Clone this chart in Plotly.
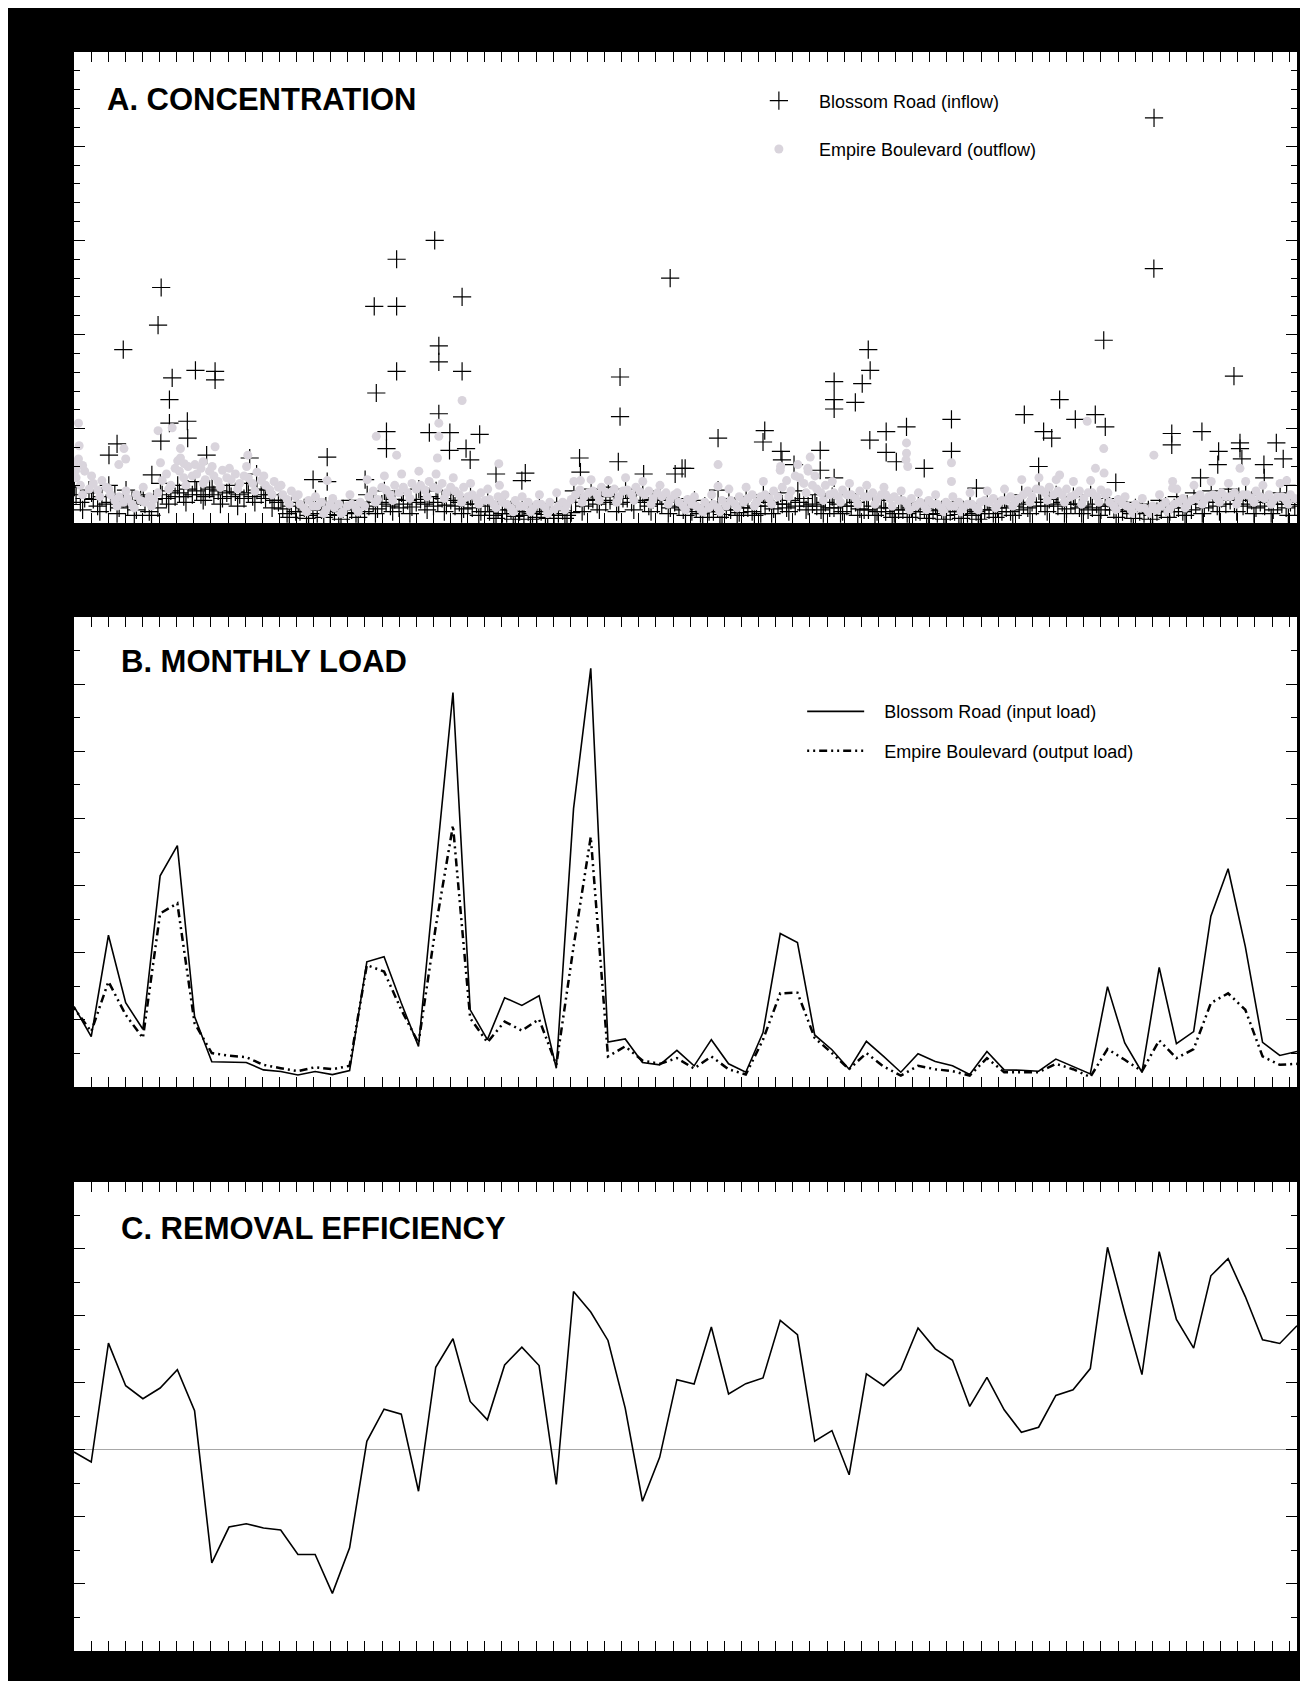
import plotly.graph_objects as go

# ---- panel A: grab samples (months since start of record, concentration) ----
# routine samples, taken on the same days at both sites
sample_month = [
	0.12, 0.37, 0.62, 0.87,
	1.12, 1.37, 1.62, 1.87,
	2.12, 2.37, 2.62, 2.87,
	3.12, 3.37, 3.62, 3.87,
	4.12, 4.37, 4.62, 4.87,
	5.12, 5.37, 5.62, 5.87,
	6.12, 6.37, 6.62, 6.87,
	7.12, 7.37, 7.62, 7.87,
	8.12, 8.37, 8.62, 8.87,
	9.12, 9.37, 9.62, 9.87,
	10.12, 10.37, 10.62, 10.87,
	11.12, 11.37, 11.62, 11.87,
	12.12, 12.37, 12.62, 12.87,
	13.12, 13.37, 13.62, 13.87,
	14.12, 14.37, 14.62, 14.87,
	15.12, 15.37, 15.62, 15.87,
	16.12, 16.37, 16.62, 16.87,
	17.12, 17.37, 17.62, 17.87,
	18.12, 18.37, 18.62, 18.87,
	19.12, 19.37, 19.62, 19.87,
	20.12, 20.37, 20.62, 20.87,
	21.12, 21.37, 21.62, 21.87,
	22.12, 22.37, 22.62, 22.87,
	23.12, 23.37, 23.62, 23.87,
	24.12, 24.37, 24.62, 24.87,
	25.12, 25.37, 25.62, 25.87,
	26.12, 26.37, 26.62, 26.87,
	27.12, 27.37, 27.62, 27.87,
	28.12, 28.37, 28.62, 28.87,
	29.12, 29.37, 29.62, 29.87,
	30.12, 30.37, 30.62, 30.87,
	31.12, 31.37, 31.62, 31.87,
	32.12, 32.37, 32.62, 32.87,
	33.12, 33.37, 33.62, 33.87,
	34.12, 34.37, 34.62, 34.87,
	35.12, 35.37, 35.62, 35.87,
	36.12, 36.37, 36.62, 36.87,
	37.12, 37.37, 37.62, 37.87,
	38.12, 38.37, 38.62, 38.87,
	39.12, 39.37, 39.62, 39.87,
	40.12, 40.37, 40.62, 40.87,
	41.12, 41.37, 41.62, 41.87,
	42.12, 42.37, 42.62, 42.87,
	43.12, 43.37, 43.62, 43.87,
	44.12, 44.37, 44.62, 44.87,
	45.12, 45.37, 45.62, 45.87,
	46.12, 46.37, 46.62, 46.87,
	47.12, 47.37, 47.62, 47.87,
	48.12, 48.37, 48.62, 48.87,
	49.12, 49.37, 49.62, 49.87,
	50.12, 50.37, 50.62, 50.87,
	51.12, 51.37, 51.62, 51.87,
	52.12, 52.37, 52.62, 52.87,
	53.12, 53.37, 53.62, 53.87,
	54.12, 54.37, 54.62, 54.87,
	55.12, 55.37, 55.62, 55.87,
	56.12, 56.37, 56.62, 56.87,
	57.12, 57.37, 57.62, 57.87,
	58.12, 58.37, 58.62, 58.87,
	59.12, 59.37, 59.62, 59.87,
	60.12, 60.37, 60.62, 60.87,
	61.12, 61.37, 61.62, 61.87,
	62.12, 62.37, 62.62, 62.87,
	63.12, 63.37, 63.62, 63.87,
	64.12, 64.37, 64.62, 64.87,
	65.12, 65.37, 65.62, 65.87,
	66.12, 66.37, 66.62, 66.87,
	67.12, 67.37, 67.62, 67.87,
	68.12, 68.37, 68.62, 68.87,
	69.12, 69.37, 69.62, 69.87,
	70.12, 70.37, 70.62, 70.87,
]
inflow_conc = [
	30, 22, 26, 35,   25, 18, 28, 20,   22, 30, 16, 26,   18, 24, 14, 28,
	20, 12, 25, 16,   30, 26, 34, 28,   32, 28, 36, 30,   34, 30, 28, 36,
	30, 34, 26, 32,   28, 33, 30, 26,   32, 28, 35, 30,   26, 30, 24, 22,
	15, 10, 18, 12,   12, 16, 8, 14,    10, 14, 18, 9,    12, 8, 15, 11,
	14, 10, 16, 12,   18, 22, 15, 20,   22, 18, 25, 16,   20, 24, 17, 22,
	25, 20, 28, 18,   22, 26, 19, 24,   18, 22, 15, 20,   16, 20, 12, 18,
	12, 8, 14, 10,    10, 14, 7, 12,    8, 12, 10, 6,     12, 9, 14, 8,
	10, 13, 8, 11,    22, 26, 18, 24,   25, 20, 28, 22,   24, 28, 20, 26,
	26, 22, 30, 24,   22, 18, 25, 20,   20, 24, 16, 22,   18, 14, 20, 12,
	15, 10, 18, 12,   12, 16, 9, 14,    14, 18, 11, 16,   16, 12, 18, 10,
	18, 22, 15, 20,   20, 16, 24, 18,   22, 26, 18, 20,   18, 14, 22, 16,
	16, 20, 12, 18,   18, 22, 15, 14,   14, 18, 12, 16,   12, 16, 10, 14,
	14, 10, 16, 12,   12, 15, 9, 13,    10, 14, 8, 12,    12, 9, 14, 10,
	8, 12, 10, 14,    14, 10, 16, 12,   16, 12, 18, 14,   20, 16, 22, 18,
	22, 18, 25, 20,   18, 22, 15, 20,   20, 16, 18, 14,   16, 20, 14, 18,
	18, 14, 20, 12,   14, 10, 16, 12,   10, 14, 8, 12,    14, 18, 12, 16,
	16, 12, 20, 14,   20, 24, 16, 22,   22, 18, 26, 20,   24, 20, 28, 18,
	20, 24, 16, 22,   18, 22, 14, 20,   20, 16, 22, 18,
]
outflow_conc = [
	48, 40, 55, 36,   42, 35, 45, 38,   30, 24, 28, 22,   26, 20, 30, 24,
	22, 28, 25, 32,   45, 52, 40, 58,   55, 48, 60, 50,   52, 58, 46, 55,
	50, 44, 56, 48,   46, 52, 42, 50,   48, 42, 54, 45,   40, 35, 44, 38,
	30, 25, 34, 28,   20, 16, 24, 18,   18, 22, 14, 20,   16, 20, 12, 18,
	20, 15, 22, 18,   28, 34, 25, 38,   35, 30, 40, 32,   38, 32, 42, 36,
	40, 35, 44, 38,   36, 42, 32, 38,   34, 30, 38, 28,   30, 26, 32, 24,
	25, 20, 28, 22,   20, 16, 24, 18,   18, 22, 15, 20,   20, 16, 22, 14,
	18, 22, 20, 25,   30, 35, 28, 32,   34, 30, 38, 32,   32, 36, 28, 34,
	35, 30, 38, 33,   30, 34, 26, 32,   28, 32, 25, 30,   22, 18, 25, 20,
	18, 15, 22, 16,   20, 16, 24, 18,   24, 20, 28, 22,   26, 30, 22, 28,
	30, 26, 34, 28,   38, 45, 34, 50,   48, 42, 55, 40,   36, 32, 40, 30,
	32, 28, 35, 30,   30, 26, 34, 28,   28, 32, 25, 30,   30, 26, 28, 24,
	24, 20, 26, 18,   22, 18, 24, 20,   20, 16, 22, 18,   18, 22, 16, 20,
	20, 16, 22, 24,   22, 26, 20, 24,   24, 28, 22, 26,   30, 34, 28, 36,
	35, 32, 38, 30,   34, 30, 36, 28,   30, 34, 26, 32,   32, 28, 35, 30,
	22, 18, 25, 20,   18, 14, 20, 16,   16, 12, 18, 14,   18, 22, 15, 20,
	22, 26, 20, 24,   26, 30, 24, 28,   30, 26, 32, 28,   28, 32, 26, 30,
	30, 26, 34, 28,   26, 30, 24, 28,   28, 24, 30, 26,
]

# additional routine samples (twice a month), both sites
extra_month = [
	0.02, 0.50, 1.02, 1.50, 2.02, 2.50, 3.02, 3.50, 4.02, 4.50, 5.02, 5.50,
	6.02, 6.50, 7.02, 7.50, 8.02, 8.50, 9.02, 9.50, 10.02, 10.50, 11.02, 11.50,
	12.02, 12.50, 13.02, 13.50, 14.02, 14.50, 15.02, 15.50, 16.02, 16.50, 17.02, 17.50,
	18.02, 18.50, 19.02, 19.50, 20.02, 20.50, 21.02, 21.50, 22.02, 22.50, 23.02, 23.50,
	24.02, 24.50, 25.02, 25.50, 26.02, 26.50, 27.02, 27.50, 28.02, 28.50, 29.02, 29.50,
	30.02, 30.50, 31.02, 31.50, 32.02, 32.50, 33.02, 33.50, 34.02, 34.50, 35.02, 35.50,
	36.02, 36.50, 37.02, 37.50, 38.02, 38.50, 39.02, 39.50, 40.02, 40.50, 41.02, 41.50,
	42.02, 42.50, 43.02, 43.50, 44.02, 44.50, 45.02, 45.50, 46.02, 46.50, 47.02, 47.50,
	48.02, 48.50, 49.02, 49.50, 50.02, 50.50, 51.02, 51.50, 52.02, 52.50, 53.02, 53.50,
	54.02, 54.50, 55.02, 55.50, 56.02, 56.50, 57.02, 57.50, 58.02, 58.50, 59.02, 59.50,
	60.02, 60.50, 61.02, 61.50, 62.02, 62.50, 63.02, 63.50, 64.02, 64.50, 65.02, 65.50,
	66.02, 66.50, 67.02, 67.50, 68.02, 68.50, 69.02, 69.50, 70.02, 70.50,
]
extra_inflow = [
	38, 14, 32, 12, 40, 10, 35, 8, 30, 8, 42, 20,
	40, 22, 44, 24, 38, 20, 40, 18, 42, 22, 36, 16,
	24, 6, 22, 5, 25, 6, 20, 4, 24, 6, 30, 10,
	34, 12, 32, 10, 36, 14, 34, 12, 30, 10, 28, 8,
	22, 5, 20, 4, 18, 4, 20, 5, 22, 5, 34, 12,
	36, 14, 38, 12, 36, 14, 32, 12, 30, 10, 26, 8,
	24, 6, 22, 6, 26, 8, 28, 8, 30, 10, 32, 12,
	34, 14, 30, 10, 28, 10, 30, 8, 26, 8, 24, 6,
	24, 6, 22, 5, 20, 4, 22, 5, 20, 4, 24, 6,
	26, 8, 30, 10, 34, 12, 30, 10, 28, 10, 30, 8,
	26, 6, 22, 5, 20, 4, 24, 6, 28, 8, 32, 10,
	34, 12, 36, 12, 32, 10, 30, 10, 32, 8,
]
extra_outflow = [
	62, 30, 50, 28, 36, 18, 34, 16, 38, 18, 64, 36,
	66, 40, 62, 42, 60, 38, 58, 36, 60, 34, 50, 30,
	40, 20, 30, 12, 28, 10, 26, 10, 30, 12, 46, 22,
	50, 24, 52, 26, 55, 28, 52, 26, 48, 22, 42, 20,
	36, 16, 30, 12, 28, 12, 30, 10, 32, 14, 44, 22,
	46, 24, 45, 22, 48, 24, 44, 20, 40, 20, 32, 14,
	28, 12, 30, 12, 36, 16, 38, 18, 44, 20, 60, 28,
	62, 32, 50, 24, 44, 22, 42, 20, 40, 20, 38, 18,
	34, 14, 32, 14, 30, 12, 28, 12, 32, 14, 34, 16,
	36, 18, 46, 22, 48, 24, 46, 22, 44, 20, 45, 22,
	32, 14, 28, 10, 26, 10, 30, 12, 36, 16, 40, 20,
	44, 22, 42, 20, 44, 22, 40, 20, 42, 20,
]

# storm event samples at the inflow
storm_in_month = [
	2.03, 2.50, 2.86, 4.52, 4.88, 5.04, 5.06, 5.54, 5.54, 5.70, 6.58, 6.60, 7.05, 7.70,
	8.19, 8.19, 10.20, 10.60, 13.88, 14.70, 14.70, 16.90, 17.43, 17.55, 18.14, 18.14,
	18.73, 18.73, 18.73, 20.63, 20.94, 21.18, 21.18, 21.18, 21.82, 21.80, 22.53, 22.53,
	22.76, 23.00, 23.55, 24.50, 26.00, 26.20, 29.35, 29.40, 31.60, 31.70, 31.70, 33.07,
	34.61, 34.90, 35.30, 35.48, 37.39, 37.39, 40.00, 40.10, 41.04, 41.10, 41.80, 43.32,
	43.32, 44.13, 44.13, 44.13, 44.13, 45.36, 45.76, 46.11, 46.20, 46.22, 47.15, 47.15,
	47.74, 48.33, 49.36, 50.94, 50.94, 52.39, 55.17, 56.00, 56.29, 56.76, 57.22, 58.13,
	59.29, 59.78, 59.87, 60.48, 62.69, 62.70, 63.73, 63.73, 65.40, 65.48, 66.40, 66.45,
	67.34, 67.69, 67.69, 67.80, 69.08, 69.10, 69.80, 70.20, 70.40,
]
storm_in_conc = [
	72, 84, 184, 51, 210, 87, 250, 131, 106, 154, 108, 90, 162, 72,
	161, 152, 69, 52, 46, 70, 44, 46, 230, 138, 97, 79,
	230, 280, 161, 96, 300, 188, 171, 116, 96, 77, 240, 161,
	79, 67, 94, 52, 45, 53, 69, 54, 65, 155, 113, 52,
	260, 52, 58, 58, 90, 35, 86, 98, 76, 67, 62, 77,
	56, 150, 131, 121, 48, 128, 148, 184, 88, 162, 97, 75,
	65, 102, 58, 110, 76, 37, 115, 60, 97, 90, 131, 110,
	115, 194, 102, 43, 270, 430, 95, 83, 48, 97, 62, 76,
	156, 85, 79, 68, 62, 48, 85, 68, 40,
]

# storm event samples at the outflow
storm_out_month = [
	0.10, 0.26, 0.26, 0.30, 0.50, 2.60, 2.90, 3.00, 4.88, 5.70, 6.18, 6.18, 6.40, 7.50,
	8.19, 10.09, 14.70, 17.55, 18.73, 21.10, 21.18, 21.18, 22.53, 24.66, 24.70, 29.40,
	37.39, 37.39, 41.00, 42.60, 42.74, 48.30, 48.33, 48.33, 48.40, 50.94, 50.94, 57.22,
	58.82, 59.30, 59.78, 59.80, 62.69, 63.78, 63.78, 67.69, 70.40,
]
storm_out_conc = [
	56, 106, 68, 82, 61, 62, 79, 68, 98, 101, 79, 69, 63, 65,
	81, 72, 45, 92, 72, 69, 106, 92, 130, 63, 40, 45,
	62, 39, 56, 58, 70, 67, 85, 74, 60, 64, 44, 51,
	108, 58, 79, 53, 72, 44, 37, 58, 45,
]

# ---- panels B and C: monthly values ----
month_index = list(range(72))
input_load = [
	2.40, 1.50, 4.52, 2.51, 1.72, 6.29, 7.19, 2.10, 0.75, 0.75,
	0.73, 0.51, 0.46, 0.36, 0.46, 0.37, 0.49, 3.73, 3.88, 2.50,
	1.21, 6.50, 11.75, 2.30, 1.41, 2.66, 2.43, 2.72, 0.56, 8.29,
	12.47, 1.34, 1.43, 0.73, 0.66, 1.09, 0.63, 1.41, 0.69, 0.44,
	1.62, 4.57, 4.30, 1.55, 1.11, 0.53, 1.36, 0.91, 0.44, 0.99,
	0.76, 0.63, 0.37, 1.06, 0.51, 0.50, 0.47, 0.83, 0.61, 0.39,
	2.99, 1.31, 0.44, 3.56, 1.29, 1.65, 5.09, 6.50, 4.18, 1.33,
	0.94, 1.06,
]
output_load = [
	2.35, 1.65, 3.14, 2.15, 1.46, 5.17, 5.47, 1.90, 1.01, 0.93,
	0.89, 0.66, 0.56, 0.47, 0.59, 0.53, 0.63, 3.63, 3.44, 2.30,
	1.31, 4.77, 7.79, 2.05, 1.33, 1.95, 1.68, 2.02, 0.66, 4.18,
	7.45, 0.91, 1.21, 0.79, 0.69, 0.86, 0.55, 0.91, 0.53, 0.37,
	1.41, 2.79, 2.81, 1.46, 1.01, 0.53, 1.01, 0.61, 0.34, 0.63,
	0.53, 0.47, 0.34, 0.86, 0.44, 0.44, 0.44, 0.69, 0.53, 0.30,
	1.13, 0.81, 0.47, 1.39, 0.86, 1.13, 2.50, 2.79, 2.30, 0.91,
	0.66, 0.69,
]
removal_eff = [
	-0.6, -3.6, 31.9, 19.2, 15.3, 18.5, 24.0, 11.7, -33.7, -23.0,
	-22.0, -23.3, -23.9, -31.2, -31.2, -42.8, -29.2, 2.6, 12.2, 10.7,
	-12.3, 24.7, 33.2, 14.5, 9.0, 25.4, 30.7, 25.2, -10.3, 47.3,
	41.2, 32.7, 12.5, -15.3, -2.2, 21.0, 19.7, 36.7, 16.7, 19.8,
	21.5, 38.7, 34.4, 2.6, 5.8, -7.4, 22.7, 19.2, 24.0, 36.4,
	30.2, 26.8, 13.0, 21.7, 12.0, 5.3, 6.8, 16.3, 18.0, 24.3,
	60.5, 40.9, 22.5, 59.2, 39.0, 30.4, 52.0, 57.1, 45.8, 32.9,
	31.8, 37.1,
]

FONT = 'Liberation Sans, Arial, Helvetica, sans-serif'
PAD = '\u00a0'  # non-breaking space, to push legend text away from its symbol

fig = go.Figure()

# panel A
fig.add_trace(go.Scatter(
	x=sample_month + extra_month + storm_in_month,
	y=inflow_conc + extra_inflow + storm_in_conc,
	mode='markers', name=PAD * 4 + 'Blossom Road (inflow)',
	marker={'symbol': 'cross-thin', 'size': 13, 'color': 'black', 'line': {'width': 1.2, 'color': 'black'}},
	xaxis='x', yaxis='y', legend='legend', legendgroup='in',
))
fig.add_trace(go.Scatter(
	x=sample_month + extra_month + storm_out_month,
	y=outflow_conc + extra_outflow + storm_out_conc,
	mode='markers', name=PAD * 4 + 'Empire Boulevard (outflow)',
	marker={'symbol': 'circle', 'size': 9, 'color': '#d9d4dc', 'line': {'width': 0}},
	xaxis='x', yaxis='y', legend='legend', legendgroup='out',
))

# panel B
fig.add_trace(go.Scatter(
	x=month_index, y=input_load, mode='lines', name=PAD * 3 + 'Blossom Road (input load)',
	line={'color': 'black', 'width': 1.6},
	xaxis='x2', yaxis='y2', legend='legend2', legendgroup='inload',
))
fig.add_trace(go.Scatter(
	x=month_index, y=output_load, mode='lines', name=PAD * 3 + 'Empire Boulevard (output load)',
	line={'color': 'black', 'width': 2.5, 'dash': '2px,4px,2px,4px,8px,4px'},
	xaxis='x2', yaxis='y2', legend='legend2', legendgroup='outload',
))

# panel C
fig.add_trace(go.Scatter(
	x=month_index, y=removal_eff, mode='lines', name='Removal efficiency',
	line={'color': 'black', 'width': 1.6}, showlegend=False,
	xaxis='x3', yaxis='y3',
))

# axes
xcommon = dict(
	range=[0, 71], showticklabels=False, ticks='inside', ticklen=10, tickwidth=1,
	tickcolor='black', tick0=0, dtick=0.9936, mirror='ticks', showgrid=False,
	zeroline=False, showline=False,
)
ycommon = dict(
	showticklabels=False, ticks='inside', ticklen=11, tickwidth=1, tickcolor='black',
	mirror='ticks', showgrid=False, zeroline=False, showline=False,
)
fig.update_layout(
	xaxis=dict(xcommon, domain=[0, 1], anchor='y'),
	yaxis=dict(ycommon, domain=[0.70544, 1], anchor='x', range=[0, 500], dtick=100,
		minor={'dtick': 20, 'ticks': 'inside', 'ticklen': 6, 'tickcolor': 'black', 'showgrid': False}),
	xaxis2=dict(xcommon, domain=[0, 1], anchor='y2'),
	yaxis2=dict(ycommon, domain=[0.35272, 0.64665], anchor='x2', range=[0, 14], dtick=2,
		minor={'dtick': 1, 'ticks': 'inside', 'ticklen': 6, 'tickcolor': 'black', 'showgrid': False}),
	xaxis3=dict(xcommon, domain=[0, 1], anchor='y3'),
	yaxis3=dict(ycommon, domain=[0, 0.29331], anchor='x3', range=[-60, 80], dtick=20,
		zeroline=True, zerolinecolor='#a8a8a8', zerolinewidth=1,
		minor={'dtick': 10, 'ticks': 'inside', 'ticklen': 6, 'tickcolor': 'black', 'showgrid': False}),
)

# panel titles
titles = [('A. CONCENTRATION', 'x', 'y', 0.0253, 0.900),
	('B. MONTHLY LOAD', 'x2', 'y2', 0.0368, 0.906),
	('C. REMOVAL EFFICIENCY', 'x3', 'y3', 0.0368, 0.900)]
for text, xa, ya, xpos, ypos in titles:
	fig.add_annotation(
		text=f'<b>{text}</b>', xref=f'{xa} domain', yref=f'{ya} domain', x=xpos, y=ypos,
		xanchor='left', yanchor='middle', showarrow=False,
		font={'family': FONT, 'size': 31, 'color': 'black'},
	)

fig.update_layout(
	width=1300, height=1673,
	margin={'l': 66, 'r': 11, 't': 44, 'b': 30},
	paper_bgcolor='black', plot_bgcolor='white',
	font={'family': FONT, 'color': 'black'},
	legend={
		'x': 0.560, 'y': 0.981, 'xanchor': 'left', 'yanchor': 'top', 'bgcolor': 'rgba(0,0,0,0)',
		'font': {'size': 18, 'color': 'black', 'family': FONT}, 'tracegroupgap': 22,
		'itemwidth': 30,
	},
	legend2={
		'x': 0.5954, 'y': 0.599, 'xanchor': 'left', 'yanchor': 'top', 'bgcolor': 'rgba(0,0,0,0)',
		'font': {'size': 18, 'color': 'black', 'family': FONT}, 'tracegroupgap': 13,
		'itemwidth': 57,
	},
)

fig.write_html('out.html')
